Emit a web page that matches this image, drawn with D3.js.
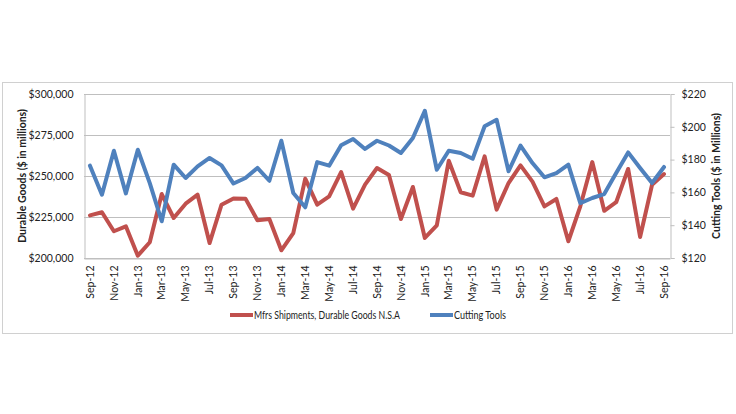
<!DOCTYPE html>
<html><head><meta charset="utf-8">
<script src="https://cdn.jsdelivr.net/npm/d3@7"></script>
<style>body{margin:0;background:#fff;} text{font-family:Lato,"Open Sans",sans-serif;fill:#222;}</style>
</head><body><svg id="c" width="736" height="414"></svg>
<script>
const months = ["Sep-12","Oct-12","Nov-12","Dec-12","Jan-13","Feb-13","Mar-13","Apr-13","May-13","Jun-13","Jul-13","Aug-13","Sep-13","Oct-13","Nov-13","Dec-13","Jan-14","Feb-14","Mar-14","Apr-14","May-14","Jun-14","Jul-14","Aug-14","Sep-14","Oct-14","Nov-14","Dec-14","Jan-15","Feb-15","Mar-15","Apr-15","May-15","Jun-15","Jul-15","Aug-15","Sep-15","Oct-15","Nov-15","Dec-15","Jan-16","Feb-16","Mar-16","Apr-16","May-16","Jun-16","Jul-16","Aug-16","Sep-16"];
const durableGoods = [226000,227900,216300,219300,201400,209600,239000,224400,233100,238600,209100,232500,236300,236200,223000,223800,204700,215200,248400,232500,237600,252400,230100,244700,254900,250600,223800,243300,212200,219900,259300,240100,238000,262000,229500,245700,256500,246600,231500,236000,210200,231500,258500,228800,234000,254300,212800,244700,251200];
const cuttingTools = [176.3,158.6,185.4,159.4,186.0,165.7,142.4,176.9,168.8,175.9,181.0,176.5,165.4,168.8,174.9,167.1,191.5,159.6,150.9,178.5,176.3,188.7,192.6,186.5,191.5,188.6,184.0,193.2,209.8,173.8,185.4,184.0,180.5,200.3,204.3,172.9,188.5,177.9,169.2,171.8,176.9,153.5,156.6,159.0,171.8,184.4,174.9,165.7,175.5];
const leftTicks = [200000,225000,250000,275000,300000];
const rightTicks = [120,140,160,180,200,220];
const seriesNames = ["Mfrs Shipments, Durable Goods N.S.A","Cutting Tools"];
const colors = ["#C0504D","#4F81BD"];

const svg = d3.select("#c");
const L=84, R=670, T=94, B=258;
const FF = "Lato,'Open Sans',sans-serif";

svg.append("rect").attr("x",2.5).attr("y",82.5).attr("width",730).attr("height",251)
  .attr("fill","none").attr("stroke","#d0d0d0");

const x = d3.scaleBand().domain(months).range([L,R]);
const yL = d3.scaleLinear().domain([200000,300000]).range([B,T]);
const yR = d3.scaleLinear().domain([120,220]).range([B,T]);
const cx = m => x(m)+x.bandwidth()/2;

// gridlines
svg.append("g").selectAll("line").data(leftTicks).join("line")
  .attr("x1",L).attr("x2",R).attr("y1",d=>Math.round(yL(d))+0.5).attr("y2",d=>Math.round(yL(d))+0.5)
  .attr("stroke","#bfbfbf").attr("stroke-width",1);

// left axis
const fmt = d3.format("$,");
const gL = svg.append("g").attr("transform",`translate(${L+0.5},0)`)
  .call(d3.axisLeft(yL).tickValues(leftTicks).tickFormat(fmt).tickSize(0).tickPadding(11));
gL.select(".domain").attr("stroke","#bfbfbf");
gL.selectAll("text").attr("font-size","10.5px").style("font-family",FF).attr("fill","#222");

// right axis
const gR = svg.append("g").attr("transform",`translate(${R+0.5},0)`)
  .call(d3.axisRight(yR).tickValues(rightTicks).tickFormat(d=>"$"+d).tickSize(4).tickPadding(7));
gR.select(".domain").attr("stroke","#bfbfbf");
gR.selectAll("line").attr("stroke","#bfbfbf");
gR.selectAll("text").attr("font-size","10.5px").style("font-family",FF).attr("fill","#222");

// bottom axis
const gB = svg.append("g").attr("transform",`translate(0,${B+0.5})`)
  .call(d3.axisBottom(x).tickValues(months.filter((d,i)=>i%2===0)).tickSize(0));
gB.select(".domain").attr("stroke","#bfbfbf");
gB.selectAll("text").attr("font-size","10.5px").style("font-family",FF).attr("fill","#222")
  .attr("transform","rotate(-90)").attr("text-anchor","end").attr("dx","-7px").attr("dy","0.35em").attr("y",0).attr("x",0);
gB.selectAll(".tick").attr("transform",d=>`translate(${cx(d)},0)`);

// lines
const lineL = d3.line().x((d,i)=>cx(months[i])).y(d=>yL(d));
const lineR = d3.line().x((d,i)=>cx(months[i])).y(d=>yR(d));
svg.append("path").datum(durableGoods).attr("d",lineL).attr("fill","none")
  .attr("stroke",colors[0]).attr("stroke-width",4).attr("stroke-linejoin","round").attr("stroke-linecap","round");
svg.append("path").datum(cuttingTools).attr("d",lineR).attr("fill","none")
  .attr("stroke",colors[1]).attr("stroke-width",4).attr("stroke-linejoin","round").attr("stroke-linecap","round");

// axis titles
svg.append("text").attr("transform","translate(26,176) rotate(-90)").attr("text-anchor","middle")
  .attr("font-size","10.5px").attr("font-weight","bold").text("Durable Goods ($ in millions)");
svg.append("text").attr("transform","translate(720,176) rotate(-90)").attr("text-anchor","middle")
  .attr("font-size","10.5px").attr("font-weight","bold").text("Cutting Tools ($ in Millions)");

// legend
const legX = [230,430];
const legW = [146,52];
seriesNames.forEach((n,i)=>{
  svg.append("line").attr("x1",legX[i]).attr("x2",legX[i]+23).attr("y1",315).attr("y2",315)
    .attr("stroke",colors[i]).attr("stroke-width",4);
  svg.append("text").attr("x",legX[i]+24).attr("y",315).attr("dy","0.35em")
    .attr("font-size","10.5px").attr("textLength",legW[i]).attr("lengthAdjust","spacingAndGlyphs").text(n);
});
</script></body></html>
